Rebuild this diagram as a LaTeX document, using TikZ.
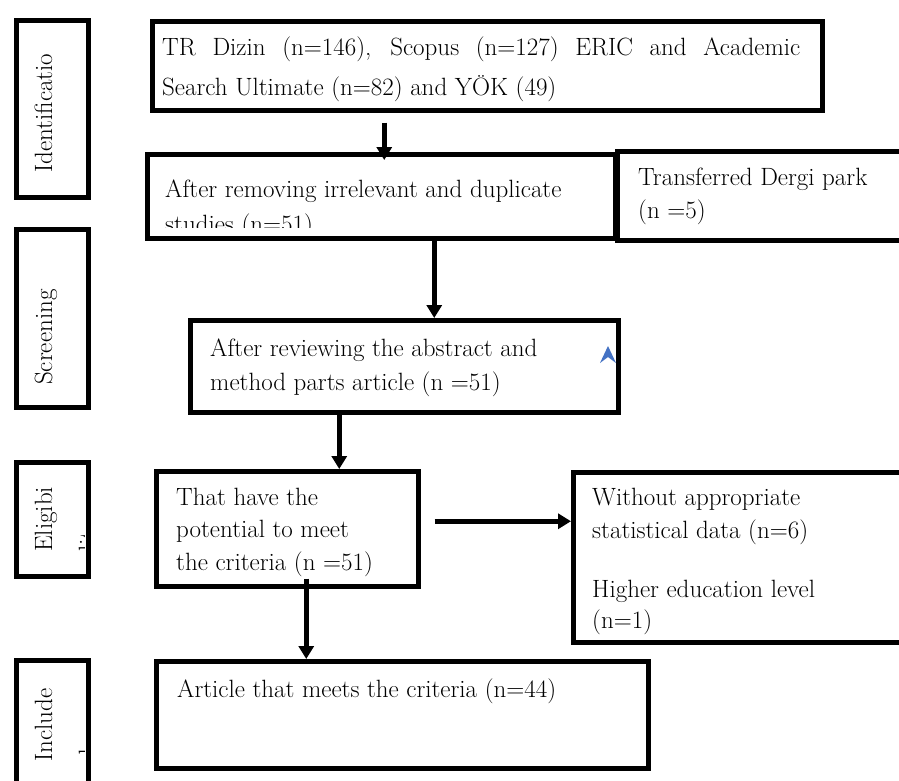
\documentclass[tikz,border=0pt]{standalone}
\usepackage{tikz}
\usetikzlibrary{arrows.meta, calc}
\definecolor{markblue}{RGB}{68,114,196}

\begin{document}
\begin{tikzpicture}[x=1pt, y=-1pt,
  box/.style={rectangle, draw, line width=4.5pt, inner sep=0pt, anchor=north west},
  txt/.style={inner sep=0pt, anchor=base west, font=\fontsize{25}{33}\selectfont},
  arr/.style={-{Triangle[width=15pt,length=13pt]}, line width=4.5pt},
]
\clip (0,0) rectangle (899,780);
\fill[white] (0,0) rectangle (899,780);

% stage boxes
\node[box, minimum width=72pt, minimum height=177pt] (P1) at (14,18) {};
\node[box, minimum width=72pt, minimum height=178pt] (P2) at (14,227) {};
\node[box, minimum width=72pt, minimum height=114pt] (P3) at (14,460) {};
\node[box, minimum width=72pt, minimum height=140pt] (P4) at (14,658) {};

% flow boxes
\node[box, minimum width=670pt, minimum height=89pt] (B1) at (150,19) {};
\node[box, minimum width=468pt, minimum height=84pt] (B2) at (145,152) {};
\node[box, minimum width=300pt, minimum height=89pt] (S1) at (615,149) {};
\node[box, minimum width=428pt, minimum height=92pt] (B3) at (188,318) {};
\node[box, minimum width=262pt, minimum height=115pt] (B4) at (154,469) {};
\node[box, minimum width=340pt, minimum height=170pt] (S2) at (571,470) {};
\node[box, minimum width=492pt, minimum height=107pt] (B5) at (154,659) {};

% texts
\node[txt] (t1a) at (162,55) {\makebox[638pt][s]{TR Dizin (n=146), Scopus (n=127) ERIC and Academic}};
\node[txt] (t1b) at (162,95) {Search Ultimate (n=82) and YÖK (49)};
\begin{scope}
  \clip (142,150) rectangle (613,227);
  \node[txt] (t2a) at (165,197) {After removing irrelevant and duplicate};
  \node[txt] (t2b) at (165,232) {studies (n=51)};
\end{scope}
\node[txt] (s1a) at (638,185) {Transferred Dergi park};
\node[txt] (s1b) at (638,218) {(n =5)};
\node[txt] (t3a) at (210,356) {After reviewing the abstract and};
\node[txt] (t3b) at (210,390) {method parts article (n =51)};
\node[txt] (t4a) at (176,505) {That have the};
\node[txt] (t4b) at (176,537) {potential to meet};
\node[txt] (t4c) at (176,570) {the criteria (n =51)};
\node[txt] (s2a) at (592,505) {Without appropriate};
\node[txt] (s2b) at (592,538) {statistical data (n=6)};
\node[txt] (s2c) at (592,597) {Higher education level};
\node[txt] (s2d) at (592,628) {(n=1)};
\node[txt] (t5) at (177,697) {Article that meets the criteria (n=44)};

% stage labels
\node[txt, rotate=90] (p1t) at (52,173) {Identificatio};
\node[txt, rotate=90] (p2t) at (52,385) {Screening};
\begin{scope}
  \clip (16,462) rectangle (84,572);
  \node[txt, rotate=90] (p3t) at (52,552) {Eligibi};
  \node[txt, rotate=90] (p3u) at (96,552) {lity};
\end{scope}
\begin{scope}
  \clip (16,660) rectangle (84,790);
  \node[txt, rotate=90] (p4t) at (52,762) {Include};
  \node[txt, rotate=90] (p4u) at (96,762) {d};
\end{scope}

% arrows
\draw[arr] ([xshift=-103pt,yshift=-10pt]B1.south) -- ([xshift=-103pt,yshift=-8pt]B1.south |- B2.north);
\draw[arr] ([xshift=53pt]B2.south) -- ([xshift=53pt]B2.south |- B3.north);
\draw[arr] ([xshift=-65pt]B3.south) -- ([xshift=-65pt]B3.south |- B4.north);
\draw[arr] ([xshift=19pt,yshift=10pt]B4.south) -- ([xshift=19pt]B4.south |- B5.north);
\draw[arr] ([xshift=14pt,yshift=7.5pt]B4.east) -- ([yshift=7.5pt]B4.east -| S2.west);

\fill[markblue] (608,346) -- (616,363) -- (608,357) -- (600,363) -- cycle;
\end{tikzpicture}
\end{document}
